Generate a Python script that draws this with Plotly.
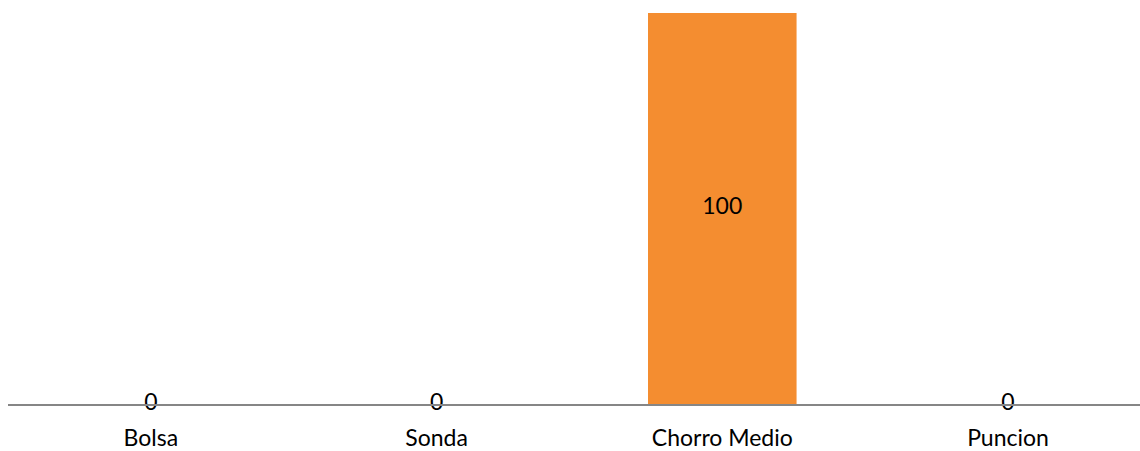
import plotly.graph_objects as go

categories = ["Bolsa", "Sonda", "Chorro Medio", "Puncion"]
values = [0, 0, 100, 0]
label_pos = [v / 2 for v in values]

FONT = "Lato, 'Open Sans', sans-serif"

fig = go.Figure()
fig.add_trace(go.Bar(
    x=categories, y=values, width=0.52,
    marker=dict(color="#F48D30", line=dict(width=0)),
    hoverinfo="skip", showlegend=False,
))
fig.add_trace(go.Scatter(
    x=categories, y=label_pos, mode="text",
    text=[str(v) for v in values],
    textposition="middle center",
    textfont=dict(family=FONT, size=23, color="#000000"),
    hoverinfo="skip", showlegend=False, cliponaxis=False,
))

fig.update_layout(
    width=1140, height=451,
    margin=dict(l=8, r=0, t=13, b=47),
    paper_bgcolor="white", plot_bgcolor="white",
    font=dict(family=FONT, size=23, color="#000000"),
    xaxis=dict(
        type="category", range=[-0.5, 3.462],
        showline=True, linecolor="#868686", linewidth=1.5,
        showgrid=False, zeroline=False, ticks="",
        ticklabelstandoff=13,
        tickfont=dict(family=FONT, size=23, color="#000000"),
    ),
    yaxis=dict(
        range=[0, 100], visible=False, showgrid=False, zeroline=False,
    ),
)

fig.write_html("out.html")
